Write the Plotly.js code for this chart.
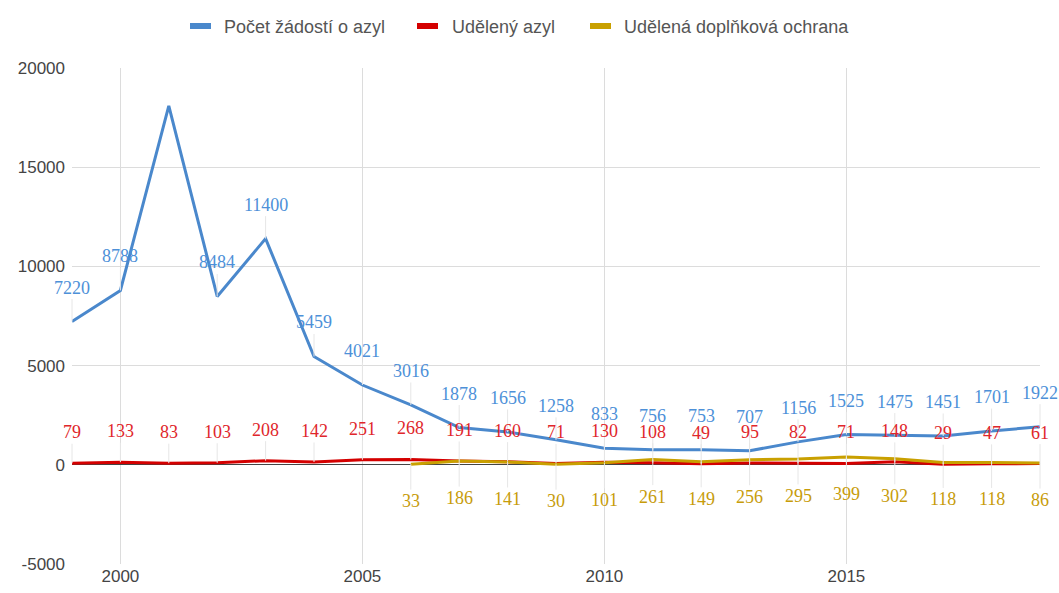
<!DOCTYPE html>
<html>
<head>
<meta charset="utf-8">
<script src="https://cdn.plot.ly/plotly-3.0.1.min.js"></script>
<style>html,body{margin:0;padding:0;background:#fff;}#chart{width:1059px;height:593px;}</style>
</head>
<body>
<div id="chart"></div>
<script>
const years = [1999,2000,2001,2002,2003,2004,2005,2006,2007,2008,2009,2010,2011,2012,2013,2014,2015,2016,2017,2018,2019];
const applications = [7220,8788,18094,8484,11400,5459,4021,3016,1878,1656,1258,833,756,753,707,1156,1525,1475,1451,1701,1922];
const asylumGranted = [79,133,83,103,208,142,251,268,191,160,71,130,108,49,95,82,71,148,29,47,61];
const subsidiaryYears = [2006,2007,2008,2009,2010,2011,2012,2013,2014,2015,2016,2017,2018,2019];
const subsidiary = [33,186,141,30,101,261,149,256,295,399,302,118,118,86];
const seriesNames = ['Počet žádostí o azyl','Udělený azyl','Udělená doplňková ochrana'];
const blueLabelSkip = [2001];
const xTickVals = [2000, 2005, 2010, 2015];
const yTickVals = [-5000, 0, 5000, 10000, 15000, 20000];
const yTickText = ['-5000', '0', '5000', '10000', '15000', '20000'];

const cBlue = '#4a88cc', cRed = '#d40000', cGold = '#c9a000';
const lBlue = '#4d90d8', lRed = '#e0262b', lGold = '#c79c0a';
const lineColors = [cBlue, cRed, cGold];

const W = 1059, H = 593, M = {l: 72, r: 19, t: 68, b: 29};
const pw = W - M.l - M.r, ph = H - M.t - M.b;
const px2x = (px) => (px - M.l) / pw;
const py2y = (py) => (H - M.b - py) / ph;

const traces = [
  {x: years, y: applications, name: seriesNames[0], mode: 'lines', line: {color: cBlue, width: 3}},
  {x: years, y: asylumGranted, name: seriesNames[1], mode: 'lines', line: {color: cRed, width: 3}},
  {x: subsidiaryYears, y: subsidiary, name: seriesNames[2], mode: 'lines', line: {color: cGold, width: 3}}
];

const labelFont = (c) => ({family: 'Liberation Serif, Times New Roman, serif', size: 18, color: c});
const mk = (x, y, c, ay) => ({x: x, y: y, text: String(y), showarrow: true, arrowhead: 0, arrowwidth: 1, arrowcolor: '#e6e6e6', ax: 0, ay: ay, standoff: 0, font: labelFont(c)});
const ann = [];
years.forEach((yr, i) => {
  if (!blueLabelSkip.includes(yr)) ann.push(mk(yr, applications[i], lBlue, -34));
  ann.push(mk(yr, asylumGranted[i], lRed, -31));
});
subsidiaryYears.forEach((yr, i) => {
  ann.push(mk(yr, subsidiary[i], lGold, 37));
});

// manual Google-style legend
const legSymX = [190, 417, 590];
const legTextX = [222, 450, 622];
const legY = 26;
const shapes = [];
seriesNames.forEach((n, i) => {
  shapes.push({type: 'rect', xref: 'paper', yref: 'paper', x0: px2x(legSymX[i]), x1: px2x(legSymX[i] + 21), y0: py2y(legY + 3), y1: py2y(legY - 3), fillcolor: lineColors[i], line: {width: 0}});
  ann.push({xref: 'paper', yref: 'paper', x: px2x(legTextX[i]), y: py2y(legY + 1), xanchor: 'left', yanchor: 'middle', showarrow: false, text: n, font: {family: 'Liberation Sans, Arial, sans-serif', size: 18, color: '#555'}});
});

const layout = {
  width: W, height: H,
  margin: M,
  paper_bgcolor: '#fff', plot_bgcolor: '#fff',
  font: {family: 'Liberation Sans, Arial, sans-serif', size: 17, color: '#444'},
  showlegend: false,
  xaxis: {range: [1999, 2019], tickvals: xTickVals, showgrid: true, gridcolor: '#dcdcdc', zeroline: false, showline: false, ticks: '', tickfont: {size: 17, color: '#444'}, fixedrange: true},
  yaxis: {range: [-5000, 20000], tickvals: yTickVals, ticktext: yTickText, showgrid: true, gridcolor: '#dcdcdc', zeroline: true, zerolinecolor: '#444', zerolinewidth: 1, showline: false, ticks: '', ticklabelstandoff: 6, tickfont: {size: 17, color: '#444'}, fixedrange: true},
  shapes: shapes,
  annotations: ann
};
Plotly.newPlot('chart', traces, layout, {displayModeBar: false, staticPlot: true});
</script>
</body>
</html>
